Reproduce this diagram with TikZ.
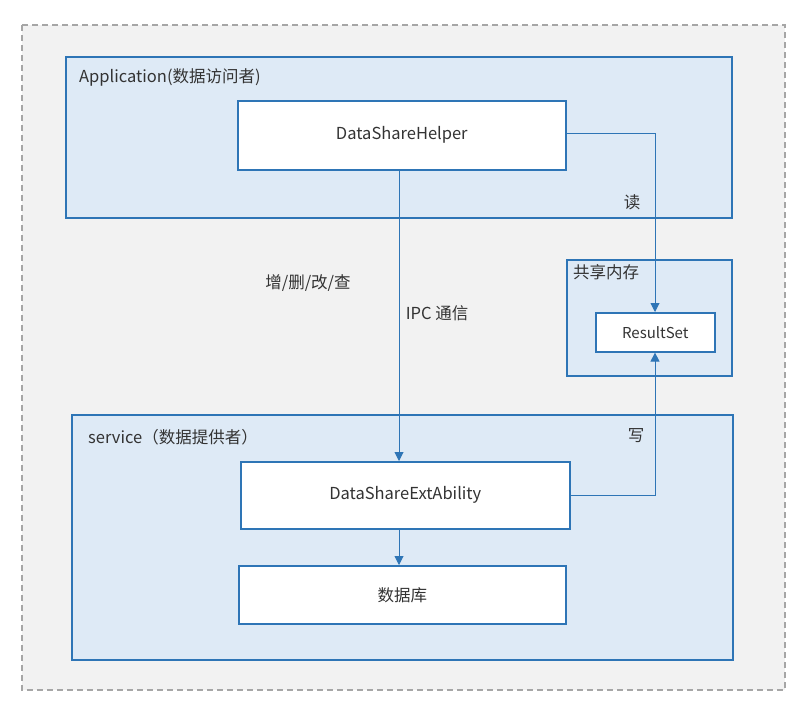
\documentclass[tikz,border=0pt]{standalone}
\usepackage{fontspec}
\setmainfont{Noto Sans CJK SC}
\usetikzlibrary{arrows.meta}
\definecolor{bluel}{HTML}{2E75B6}
\definecolor{fillb}{HTML}{DEEAF6}
\definecolor{outerf}{HTML}{F2F2F2}
\definecolor{dashg}{HTML}{A6A6A6}
\definecolor{txt}{HTML}{333333}
\tikzset{
  grp/.style={draw=bluel, fill=fillb, line width=1.6pt},
  wbox/.style={draw=bluel, fill=white, line width=1.6pt},
  lbl/.style={text=txt, font=\fontsize{16.5}{19}\selectfont, inner sep=0pt},
  conn/.style={draw=bluel, line width=0.9pt, -{Triangle[length=9pt,width=9pt]}},
}
\begin{document}
\begin{tikzpicture}[x=1pt,y=-1pt]
\useasboundingbox (0,0) rectangle (808,710);
\fill[white] (0,0) rectangle (808,710);
\draw[dashg, fill=outerf, line width=1.2pt, dash pattern=on 6pt off 4pt] (22,25) rectangle (785,690);
% groups
\draw[grp] (66,57) rectangle (732,218);
\node[lbl, anchor=west] (apptxt) at (79,77) {Application(数据访问者)};
\draw[grp] (567,260) rectangle (732,376);
\node[lbl, anchor=west] (shmtxt) at (573,272) {共享内存};
\draw[grp] (72,415) rectangle (733,660);
\node[lbl, anchor=west] (svctxt) at (88,437) {service（数据提供者）};
% boxes
\node[wbox, minimum width=328pt, minimum height=69pt, anchor=north west, lbl, draw=bluel, fill=white, line width=1.6pt] (helper) at (237,100) {DataShareHelper};
\node[wbox, minimum width=119pt, minimum height=39pt, anchor=north west, lbl, font=\fontsize{15}{17}\selectfont, draw=bluel, fill=white, line width=1.6pt] (rs) at (595,312) {ResultSet};
\node[wbox, minimum width=329pt, minimum height=67pt, anchor=north west, lbl, draw=bluel, fill=white, line width=1.6pt] (ext) at (240,461) {DataShareExtAbility};
\node[wbox, minimum width=327pt, minimum height=58pt, anchor=north west, lbl, draw=bluel, fill=white, line width=1.6pt] (db) at (238,565) {数据库};
% connectors
\coordinate (rd) at (655,133);
\coordinate (wr) at (655,495);
\draw[conn] (helper.south -| 399,0) -- (ext.north -| 399,0);
\draw[conn] (ext.south -| 399,0) -- (db.north -| 399,0);
\draw[conn] (helper.east |- rd) -- (rd) -- (rs.north -| rd);
\draw[conn] (ext.east |- wr) -- (wr) -- (rs.south -| wr);
% labels
\node[lbl] (lread) at (632,202) {读};
\node[lbl] (lwrite) at (636,436) {写};
\node[lbl] (lcrud) at (308,283) {增/删/改/查};
\node[lbl] (lipc) at (437,313) {IPC 通信};
\end{tikzpicture}
\end{document}
